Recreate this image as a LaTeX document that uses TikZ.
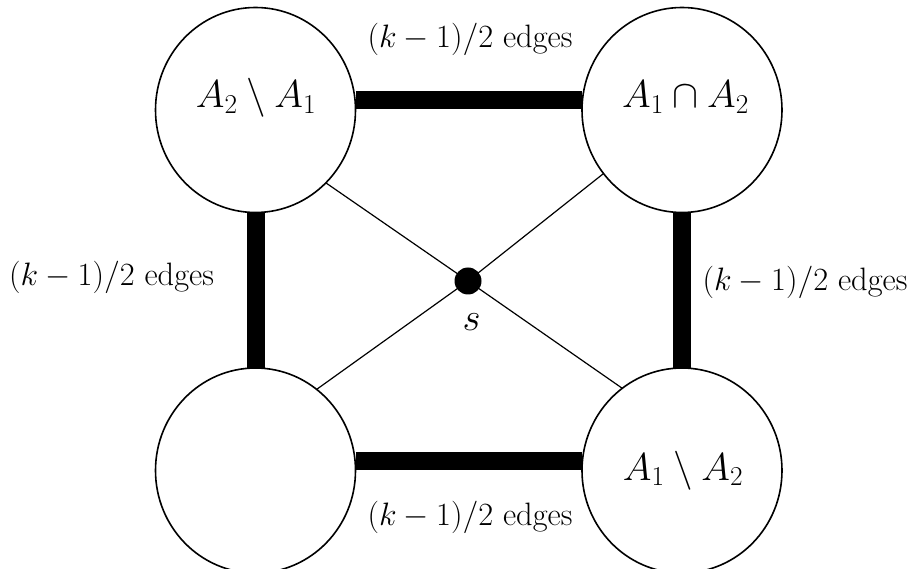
\RequirePackage{fix-cm}
\documentclass[tikz,border=0pt]{standalone}
\usetikzlibrary{shapes.geometric}
\tikzset{
  setnode/.style={ellipse, draw, line width=1.6pt, minimum width=200pt, minimum height=205pt, inner sep=0pt, outer sep=0pt},
  setlabel/.style={anchor=base, inner sep=0pt, font=\fontsize{39}{46}\selectfont},
  edgelabel/.style={anchor=base, inner sep=0pt, font=\fontsize{32.4}{38}\selectfont},
  thickedge/.style={line width=18pt, line cap=butt},
  thinedge/.style={line width=1.2pt},
}
\begin{document}
\begin{tikzpicture}[x=1pt, y=-1pt]
\useasboundingbox (0,0) rectangle (911,569);
\node[setnode] (tl) at (255.5,110) {};
\node[setnode] (tr) at (682,110) {};
\node[setnode] (bl) at (255.5,470.5) {};
\node[setnode] (br) at (682,470.5) {};
\node[setlabel] (tlt) at (256,108) {$A_2 \setminus A_1$};
\node[setlabel] (trt) at (685.5,108) {$A_1 \cap A_2$};
\node[setlabel] (brt) at (683,480) {$A_1 \setminus A_2$};
\node[circle, fill=black, minimum size=27pt, inner sep=0pt] (s) at (468,281) {};
\node[setlabel] (sl) at (471.5,331) {$s$};
\draw[thickedge] ([yshift=10pt]tl.east) -- ([yshift=10pt]tr.west);
\draw[thickedge] ([yshift=10pt]bl.east) -- ([yshift=10pt]br.west);
\draw[thickedge] (tl.south) -- (bl.north);
\draw[thickedge] (tr.south) -- (br.north);
\draw[thinedge] (s.center) -- (tl.-46);
\draw[thinedge] (s.center) -- (tr.-141.9);
\draw[thinedge] (s.center) -- (bl.53.9);
\draw[thinedge] (s.center) -- (br.126.4);
\node[edgelabel] (et) at (470,48) {$(k-1)/2$ edges};
\node[edgelabel] (el) at (111.5,285.5) {$(k-1)/2$ edges};
\node[edgelabel] (er) at (805,291) {$(k-1)/2$ edges};
\node[edgelabel] (eb) at (470,525.5) {$(k-1)/2$ edges};
\end{tikzpicture}
\end{document}
